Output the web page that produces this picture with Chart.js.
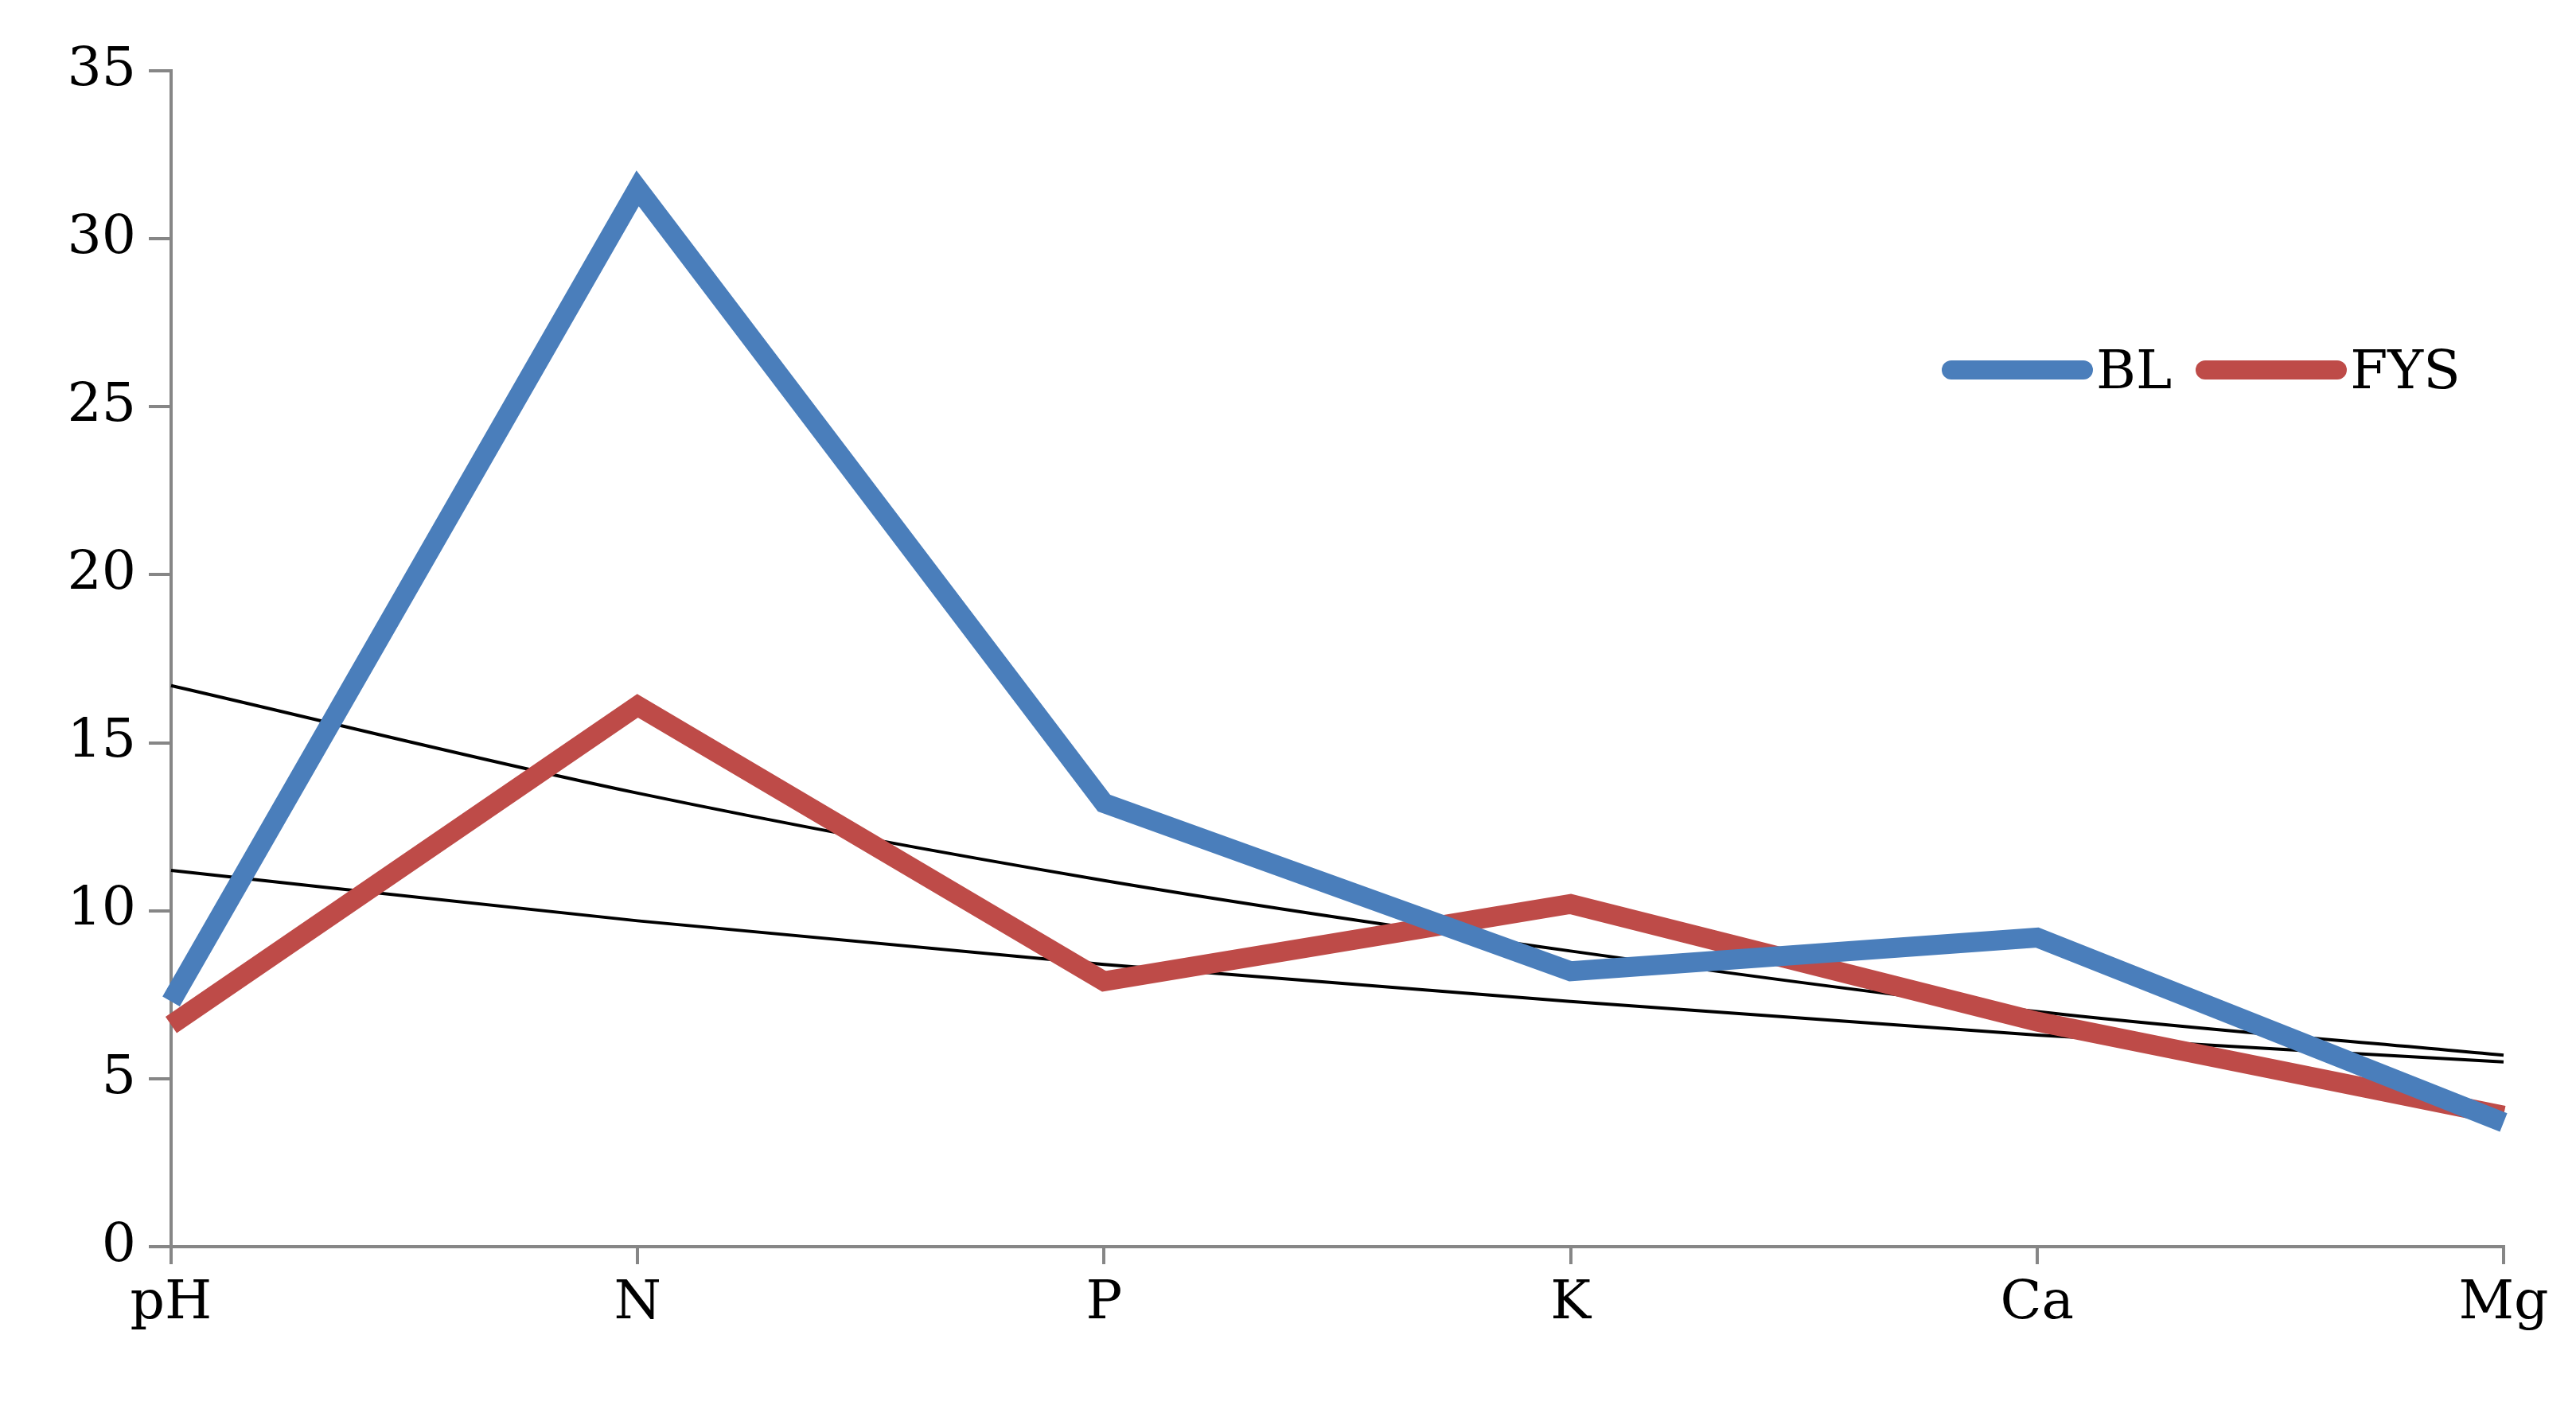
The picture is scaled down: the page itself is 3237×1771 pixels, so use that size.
<!DOCTYPE html>
<html>
<head>
<meta charset="utf-8">
<script src="https://cdn.jsdelivr.net/npm/chart.js@4"></script>
<style>
  html, body { margin: 0; padding: 0; background: #fff; }
  #wrap { position: relative; width: 3237px; height: 1771px; }
  #legend { position: absolute; left: 2440px; top: 425px; font-family: "DejaVu Serif", "Liberation Serif", serif;
            font-size: 68px; color: #000; display: flex; align-items: center; }
  .item { display: flex; align-items: center; margin-right: 30px; }
  .swatch { width: 190px; height: 24px; border-radius: 12px; margin-right: 4px; }
</style>
</head>
<body>
<div id="wrap">
  <canvas id="chart" width="3237" height="1771"></canvas>
  <div id="legend"></div>
</div>
<script>
// values
const categories = ['pH', 'N', 'P', 'K', 'Ca', 'Mg'];
const blValues = [7.3, 31.5, 13.2, 8.2, 9.2, 3.7];
const fysValues = [6.6, 16.1, 7.9, 10.2, 6.7, 3.9];
const blTrend = [16.7, 13.5, 10.9, 8.8, 7.0, 5.7];
const fysTrend = [11.2, 9.7, 8.4, 7.3, 6.3, 5.5];
const yTicks = [0, 5, 10, 15, 20, 25, 30, 35];

const blue = '#4a7ebb';
const red = '#be4b48';
const font = { family: '"DejaVu Serif", "Liberation Serif", serif', size: 68 };

const legendItems = [{ label: 'BL', color: blue }, { label: 'FYS', color: red }];
const legend = document.getElementById('legend');
legendItems.forEach(it => {
    const d = document.createElement('div');
    d.className = 'item';
    d.innerHTML = `<span class="swatch" style="background:${it.color}"></span><span>${it.label}</span>`;
    legend.appendChild(d);
});

const trendStyle = {
    borderColor: '#000', borderWidth: 4, pointRadius: 0, fill: false,
    cubicInterpolationMode: 'monotone'
};

new Chart(document.getElementById('chart'), {
    type: 'line',
    data: {
        labels: categories,
        datasets: [
            { label: 'BL', data: blValues, borderColor: blue, borderWidth: 25, pointRadius: 0, tension: 0 },
            { label: 'FYS', data: fysValues, borderColor: red, borderWidth: 25, pointRadius: 0, tension: 0 },
            { label: 'BL trend', data: blTrend, ...trendStyle },
            { label: 'FYS trend', data: fysTrend, ...trendStyle }
        ]
    },
    options: {
        responsive: false,
        animation: false,
        layout: { padding: { top: 89, right: 91, left: 0, bottom: 0 } },
        plugins: { legend: { display: false }, tooltip: { enabled: false } },
        scales: {
            x: {
                offset: false,
                afterFit: s => { s.height = 204; },
                grid: { drawOnChartArea: false, tickLength: 22, color: '#868686', lineWidth: 4 },
                border: { color: '#868686', width: 4 },
                ticks: { color: '#000', font: font, padding: 10, maxRotation: 0 }
            },
            y: {
                min: 0, max: 35,
                afterFit: s => { s.width = 215; },
                afterBuildTicks: s => { s.ticks = yTicks.map(v => ({ value: v })); },
                grid: { drawOnChartArea: false, tickLength: 28, color: '#868686', lineWidth: 4 },
                border: { color: '#868686', width: 4 },
                ticks: { color: '#000', font: font, padding: 16 }
            }
        }
    }
});
</script>
</body>
</html>
